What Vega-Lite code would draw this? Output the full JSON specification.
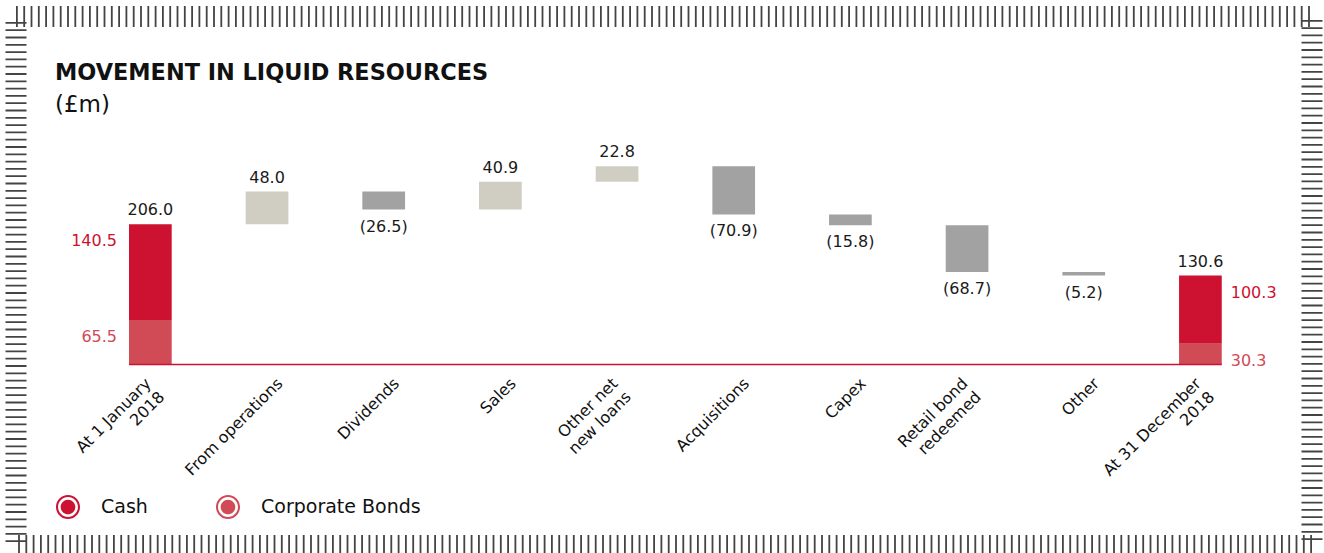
{
  "$schema": "https://vega.github.io/schema/vega-lite/v6.json",
  "autosize": "none",
  "width": 1296,
  "height": 529,
  "padding": {"left": 16, "top": 16.5, "right": 12, "bottom": 7.5},
  "background": "#ffffff",
  "config": {
    "view": {"stroke": "#444444", "strokeWidth": 21, "strokeDash": [1.8, 5.5]}
  },
  "title": {
    "text": "MOVEMENT IN LIQUID RESOURCES",
    "subtitle": "(£m)",
    "anchor": "start",
    "frame": "group",
    "orient": "top",
    "offset": -100,
    "dx": 39,
    "font": "DejaVu Sans",
    "fontSize": 22.4,
    "fontWeight": "bold",
    "color": "#111111",
    "subtitleFont": "DejaVu Sans",
    "subtitleFontSize": 23,
    "subtitleColor": "#111111",
    "subtitlePadding": 9
  },
  "datasets": {
    "flows": [
      {"category": "At 1 January\n2018", "kind": "total", "start": 0, "end": 206.0, "amount": 206.0},
      {"category": "From operations", "kind": "increase", "start": 206.0, "end": 254.0, "amount": 48.0},
      {"category": "Dividends", "kind": "decrease", "start": 254.0, "end": 227.5, "amount": -26.5},
      {"category": "Sales", "kind": "increase", "start": 227.5, "end": 268.4, "amount": 40.9},
      {"category": "Other net\nnew loans", "kind": "increase", "start": 268.4, "end": 291.2, "amount": 22.8},
      {"category": "Acquisitions", "kind": "decrease", "start": 291.2, "end": 220.3, "amount": -70.9},
      {"category": "Capex", "kind": "decrease", "start": 220.3, "end": 204.5, "amount": -15.8},
      {"category": "Retail bond\nredeemed", "kind": "decrease", "start": 204.5, "end": 135.8, "amount": -68.7},
      {"category": "Other", "kind": "decrease", "start": 135.8, "end": 130.6, "amount": -5.2},
      {"category": "At 31 December\n2018", "kind": "total", "start": 0, "end": 130.6, "amount": 130.6}
    ],
    "totals": [
      {"category": "At 1 January\n2018", "segment": "Cash", "amount": 140.5},
      {"category": "At 1 January\n2018", "segment": "Corporate Bonds", "amount": 65.5},
      {"category": "At 31 December\n2018", "segment": "Cash", "amount": 100.3},
      {"category": "At 31 December\n2018", "segment": "Corporate Bonds", "amount": 30.3}
    ]
  },
  "encoding": {
    "x": {
      "field": "category",
      "type": "nominal",
      "scale": {
        "domain": ["At 1 January\n2018", "From operations", "Dividends", "Sales", "Other net\nnew loans", "Acquisitions", "Capex", "Retail bond\nredeemed", "Other", "At 31 December\n2018"],
        "paddingInner": 0.634,
        "paddingOuter": 0.871,
        "align": 0.556
      },
      "axis": {
        "title": null,
        "domain": false,
        "ticks": false,
        "tickSize": 0,
        "grid": false,
        "labelAngle": -45,
        "labelAlign": "right",
        "labelBaseline": "middle",
        "labelOffset": {"condition": {"test": "indexof(datum.value, '\\n') >= 0", "value": -2}, "value": 13},
        "labelPadding": 16,
        "labelFont": "DejaVu Sans",
        "labelFontSize": 16,
        "labelColor": "#111111",
        "labelLineHeight": 19,
        "labelLimit": 0,
        "labelOverlap": false,
        "labelBound": false,
        "labelExpr": "split(datum.label, '\\n')",
        "offset": -181
      }
    }
  },
  "layer": [
    {
      "data": {"name": "flows"},
      "transform": [{"filter": "datum.kind == 'increase'"}],
      "mark": {"type": "bar", "color": "#d0cec2"},
      "encoding": {
        "y": {"field": "start", "type": "quantitative", "scale": {"domain": [-265.8, 511], "nice": false, "zero": false}, "axis": null},
        "y2": {"field": "end"}
      }
    },
    {
      "data": {"name": "flows"},
      "transform": [{"filter": "datum.kind == 'decrease'"}],
      "mark": {"type": "bar", "color": "#a2a2a2"},
      "encoding": {
        "y": {"field": "start", "type": "quantitative", "scale": {"domain": [-265.8, 511], "nice": false, "zero": false}, "axis": null},
        "y2": {"field": "end"}
      }
    },
    {
      "data": {"name": "totals"},
      "mark": {"type": "bar"},
      "encoding": {
        "y": {"field": "amount", "type": "quantitative", "stack": "zero", "scale": {"domain": [-265.8, 511], "nice": false, "zero": false}, "axis": null},
        "order": {"field": "segment", "sort": "descending"},
        "color": {
          "field": "segment",
          "type": "nominal",
          "scale": {"domain": ["Cash", "Corporate Bonds"], "range": ["#cc1230", "#d14b56"]},
          "legend": {
            "orient": "none",
            "legendX": 40,
            "legendY": 478.5,
            "direction": "horizontal",
            "title": null,
            "symbolType": "M -1 0 A 1 1 0 1 0 1 0 A 1 1 0 1 0 -1 0 Z M -0.83 0 A 0.83 0.83 0 1 1 0.83 0 A 0.83 0.83 0 1 1 -0.83 0 Z M -0.61 0 A 0.61 0.61 0 1 0 0.61 0 A 0.61 0.61 0 1 0 -0.61 0 Z",
            "symbolSize": 576,
            "symbolStrokeWidth": 0,
            "symbolOpacity": 1,
            "labelFont": "DejaVu Sans",
            "labelFontSize": 19,
            "labelColor": "#111111",
            "labelOffset": 21,
            "columnPadding": 68
          }
        }
      }
    },
    {
      "data": {"values": [{"level": 0}]},
      "mark": {"type": "rule", "color": "#cc1230", "strokeWidth": 1.5},
      "encoding": {
        "x": {"datum": "At 1 January\n2018", "type": "nominal", "bandPosition": 0},
        "x2": {"datum": "At 31 December\n2018", "bandPosition": 1},
        "y": {"field": "level", "type": "quantitative", "scale": {"domain": [-265.8, 511], "nice": false, "zero": false}, "axis": null}
      }
    },
    {
      "data": {"name": "flows"},
      "transform": [{"filter": "datum.kind != 'decrease'"}],
      "mark": {"type": "text", "font": "DejaVu Sans", "fontSize": 16, "color": "#1a1a1a", "baseline": "alphabetic", "dy": -9},
      "encoding": {
        "y": {"field": "end", "type": "quantitative", "scale": {"domain": [-265.8, 511], "nice": false, "zero": false}, "axis": null},
        "text": {"field": "amount", "type": "quantitative", "format": "(.1f"}
      }
    },
    {
      "data": {"name": "flows"},
      "transform": [{"filter": "datum.kind == 'decrease'"}],
      "mark": {"type": "text", "font": "DejaVu Sans", "fontSize": 16, "color": "#1a1a1a", "baseline": "top", "dy": 9},
      "encoding": {
        "y": {"field": "end", "type": "quantitative", "scale": {"domain": [-265.8, 511], "nice": false, "zero": false}, "axis": null},
        "text": {"field": "amount", "type": "quantitative", "format": "(.1f"}
      }
    },
    {
      "data": {"name": "totals"},
      "transform": [{"filter": "datum.category == 'At 1 January\\n2018'"}],
      "mark": {"type": "text", "font": "DejaVu Sans", "fontSize": 16, "align": "right", "baseline": "top", "dx": -12, "dy": 9},
      "encoding": {
        "x": {"field": "category", "type": "nominal", "bandPosition": 0},
        "y": {"field": "amount", "type": "quantitative", "stack": "zero", "scale": {"domain": [-265.8, 511], "nice": false, "zero": false}, "axis": null},
        "order": {"field": "segment", "sort": "descending"},
        "color": {"field": "segment", "type": "nominal"},
        "text": {"field": "amount", "type": "quantitative", "format": ".1f"}
      }
    },
    {
      "data": {"name": "totals"},
      "transform": [{"filter": "datum.category == 'At 31 December\\n2018'"}],
      "mark": {"type": "text", "font": "DejaVu Sans", "fontSize": 16, "align": "left", "baseline": "top", "dx": 9, "dy": 9},
      "encoding": {
        "x": {"field": "category", "type": "nominal", "bandPosition": 1},
        "y": {"field": "amount", "type": "quantitative", "stack": "zero", "scale": {"domain": [-265.8, 511], "nice": false, "zero": false}, "axis": null},
        "order": {"field": "segment", "sort": "descending"},
        "color": {"field": "segment", "type": "nominal"},
        "text": {"field": "amount", "type": "quantitative", "format": ".1f"}
      }
    }
  ]
}
